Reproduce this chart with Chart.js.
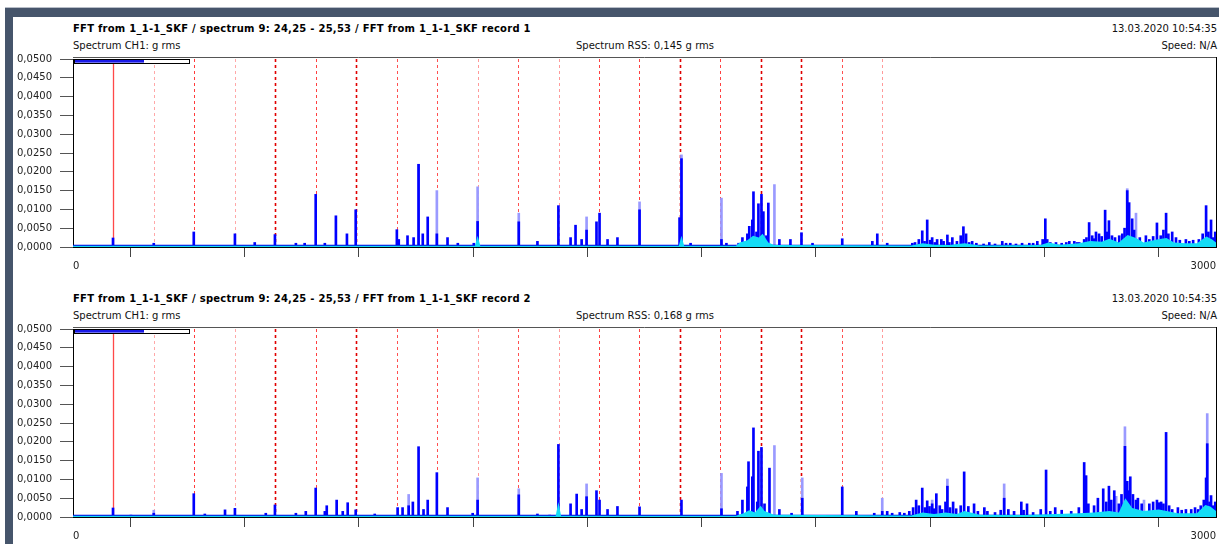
<!DOCTYPE html>
<html>
<head>
<meta charset="utf-8">
<script src="https://cdn.jsdelivr.net/npm/chart.js@4.4.1/dist/chart.umd.min.js"></script>
<style>
  body { margin: 0; background: #fff; width: 1219px; height: 544px; overflow: hidden; position: relative;
         font-family: "DejaVu Sans", Verdana, sans-serif; font-size: 10px; color: #111; }
  .frame-top { position: absolute; left: 5px; top: 7px; width: 1214px; height: 9px; background: #46556b; border-top: 1px solid #b8bec8; }
  .frame-left { position: absolute; left: 5px; top: 8px; width: 8px; height: 536px; background: #46556b; }
  .panel { position: absolute; left: 13px; width: 1206px; height: 270px; }
  .t { position: absolute; white-space: nowrap; line-height: 12px; }
  .title { left: 60px; top: 7px; font-weight: bold; letter-spacing: 0.25px; color: #000; }
  .sub { left: 60px; top: 24px; }
  .rss { left: 632px; top: 24px; transform: translateX(-50%); }
  .date { right: 2px; top: 7px; }
  .speed { right: 2px; top: 24px; }
  canvas { position: absolute; left: 0; top: 29px; }
</style>
</head>
<body>
<div class="frame-top"></div>
<div class="frame-left"></div>

<div class="panel" style="top:16px">
  <div class="t title">FFT from 1_1-1_SKF / spectrum 9: 24,25 - 25,53 / FFT from 1_1-1_SKF record 1</div>
  <div class="t sub">Spectrum CH1: g rms</div>
  <div class="t rss">Spectrum RSS: 0,145 g rms</div>
  <div class="t date">13.03.2020 10:54:35</div>
  <div class="t speed">Speed: N/A</div>
  <canvas id="rec1" width="1206" height="230"></canvas>
</div>

<div class="panel" style="top:286px">
  <div class="t title">FFT from 1_1-1_SKF / spectrum 9: 24,25 - 25,53 / FFT from 1_1-1_SKF record 2</div>
  <div class="t sub">Spectrum CH1: g rms</div>
  <div class="t rss">Spectrum RSS: 0,168 g rms</div>
  <div class="t date">13.03.2020 10:54:35</div>
  <div class="t speed">Speed: N/A</div>
  <canvas id="rec2" width="1206" height="230"></canvas>
</div>

<script>
// frequency axis (Hz) and amplitude axis (g rms)
const xMin = 0, xMax = 3000, xStep = 300;
const xLabels = [0, 3000];
const yMin = 0, yMax = 0.05, yStep = 0.005;

// order markers: fundamental and number of harmonics
const fundamentalHz = 106.2;
const markerCount = 20;
const markerColors = ['#ff4848', '#ffa8a8', '#ff3a3a', '#ffa8a8', '#e00000', '#ff4040', '#e00000', '#ff5050', '#ff5050', '#ff9a9a',
                      '#ff5050', '#ff9a9a', '#ff4040', '#ff4040', '#e00000', '#ff4040', '#e00000', '#e00000', '#ff5050', '#ff9a9a'];

// noise floor level
const rec1Floor = 0.0003;
const rec2Floor = 0.0003;

// record 1 : [Hz, g rms]
const rec1Peaks = [
  [105,0.0024],[212,0.0010],[317,0.0040],[425,0.0035],[477,0.0012],[530,0.0033],[585,0.0010],[608,0.0010],
  [637,0.0140],[661,0.0010],[690,0.0083],[719,0.0035],[742,0.0099],[850,0.0046],[855,0.0020],[878,0.0030],
  [894,0.0025],[907,0.0220],[918,0.0035],[931,0.0080],[955,0.0035],[983,0.0025],[1010,0.0010],[1052,0.0010],
  [1062,0.0068],[1170,0.0067],[1219,0.0015],[1274,0.0110],[1306,0.0025],[1319,0.0058],[1335,0.0020],[1348,0.0045],
  [1374,0.0067],[1382,0.0090],[1403,0.0020],[1429,0.0025],[1487,0.0099],[1592,0.0078],[1597,0.0235],[1621,0.0010],
  [1702,0.0020],[1715,0.0010],[1747,0.0010],[1757,0.0025],[1770,0.0035],[1775,0.0055],[1783,0.0072],[1786,0.0147],
  [1794,0.0040],[1799,0.0115],[1807,0.0140],[1812,0.0094],[1820,0.0030],[1825,0.0117],[1854,0.0020],[1883,0.0020],
  [1912,0.0038],[1941,0.0010],[2019,0.0022],[2098,0.0015],[2111,0.0035],[2137,0.0010],[2203,0.0010],[2210,0.0012],
  [2220,0.0020],[2229,0.0043],[2235,0.0015],[2242,0.0072],[2250,0.0018],[2255,0.0025],[2262,0.0012],[2268,0.0020],
  [2279,0.0020],[2285,0.0015],[2295,0.0032],[2300,0.0012],[2308,0.0025],[2320,0.0015],[2330,0.0030],[2337,0.0054],
  [2344,0.0035],[2352,0.0012],[2360,0.0015],[2371,0.0010],[2390,0.0008],[2405,0.0012],[2420,0.0008],[2439,0.0015],
  [2449,0.0010],[2460,0.0010],[2475,0.0008],[2491,0.0010],[2510,0.0010],[2520,0.0010],[2531,0.0015],[2545,0.0020],
  [2552,0.0075],[2557,0.0020],[2565,0.0012],[2580,0.0012],[2595,0.0010],[2607,0.0012],[2615,0.0015],[2628,0.0015],
  [2635,0.0012],[2641,0.0012],[2654,0.0020],[2660,0.0025],[2667,0.0065],[2675,0.0030],[2680,0.0022],[2685,0.0040],
  [2693,0.0035],[2700,0.0028],[2709,0.0098],[2714,0.0040],[2719,0.0070],[2727,0.0030],[2735,0.0025],[2746,0.0030],
  [2754,0.0035],[2760,0.0050],[2767,0.0150],[2772,0.0118],[2780,0.0075],[2785,0.0045],[2800,0.0025],[2816,0.0030],
  [2825,0.0020],[2835,0.0028],[2845,0.0064],[2855,0.0030],[2862,0.0045],[2869,0.0090],[2875,0.0035],[2885,0.0040],
  [2895,0.0025],[2905,0.0018],[2921,0.0020],[2930,0.0015],[2940,0.0018],[2955,0.0020],[2965,0.0035],[2974,0.0110],
  [2980,0.0040],[2987,0.0072],[2993,0.0025],[2998,0.0040]
];
const rec1Max = [
  [907,0.0220],[955,0.0150],[1062,0.0160],[1170,0.0090],[1348,0.0080],[1487,0.0120],[1597,0.0245],[1702,0.0130],
  [1841,0.0166],[2767,0.0155],[2790,0.0090]
];
const rec1Avg = [
  [0,0.0003],[1055,0.0003],[1062,0.0030],[1069,0.0003],[1590,0.0003],[1597,0.0030],[1604,0.0003],[1740,0.0003],
  [1750,0.0012],[1770,0.0018],[1785,0.0030],[1800,0.0025],[1810,0.0035],[1825,0.0012],[1840,0.0005],[2200,0.0004],
  [2230,0.0010],[2260,0.0006],[2300,0.0005],[2340,0.0010],[2380,0.0004],[2540,0.0005],[2560,0.0012],[2590,0.0006],
  [2640,0.0010],[2670,0.0016],[2700,0.0014],[2720,0.0022],[2745,0.0012],[2768,0.0032],[2790,0.0024],[2810,0.0012],
  [2845,0.0020],[2870,0.0024],[2890,0.0012],[2920,0.0010],[2950,0.0010],[2975,0.0028],[2990,0.0020],[3000,0.0012]
];

// record 2 : [Hz, g rms]
const rec2Peaks = [
  [105,0.0024],[152,0.0005],[212,0.0010],[317,0.0062],[346,0.0008],[399,0.0019],[425,0.0023],[506,0.0010],
  [530,0.0032],[585,0.0010],[611,0.0015],[637,0.0077],[661,0.0015],[666,0.0030],[692,0.0045],[708,0.0015],
  [721,0.0038],[742,0.0019],[792,0.0008],[852,0.0025],[865,0.0025],[881,0.0030],[892,0.0040],[907,0.0187],
  [920,0.0020],[931,0.0045],[955,0.0118],[983,0.0025],[1049,0.0010],[1062,0.0045],[1170,0.0059],[1219,0.0008],
  [1251,0.0005],[1274,0.0193],[1306,0.0035],[1322,0.0061],[1335,0.0020],[1348,0.0054],[1374,0.0070],[1382,0.0045],
  [1403,0.0020],[1429,0.0028],[1487,0.0027],[1597,0.0045],[1702,0.0022],[1744,0.0015],[1757,0.0045],[1770,0.0080],
  [1773,0.0147],[1783,0.0107],[1786,0.0237],[1796,0.0040],[1799,0.0175],[1807,0.0185],[1815,0.0035],[1828,0.0130],
  [1854,0.0020],[1886,0.0010],[1914,0.0050],[2019,0.0080],[2056,0.0015],[2103,0.0010],[2124,0.0015],[2137,0.0015],
  [2150,0.0010],[2170,0.0012],[2182,0.0010],[2195,0.0015],[2205,0.0025],[2213,0.0045],[2220,0.0030],[2229,0.0077],
  [2236,0.0025],[2242,0.0043],[2248,0.0028],[2255,0.0035],[2260,0.0022],[2266,0.0062],[2275,0.0030],[2281,0.0020],
  [2290,0.0040],[2295,0.0082],[2302,0.0025],[2310,0.0040],[2318,0.0022],[2330,0.0030],[2339,0.0120],[2350,0.0028],
  [2365,0.0035],[2375,0.0015],[2392,0.0025],[2400,0.0015],[2420,0.0012],[2435,0.0018],[2444,0.0050],[2455,0.0020],
  [2470,0.0015],[2489,0.0040],[2495,0.0018],[2504,0.0035],[2520,0.0012],[2540,0.0020],[2554,0.0125],[2565,0.0015],
  [2578,0.0025],[2595,0.0018],[2620,0.0015],[2640,0.0025],[2654,0.0145],[2659,0.0110],[2665,0.0035],[2680,0.0030],
  [2690,0.0050],[2704,0.0075],[2712,0.0040],[2719,0.0082],[2725,0.0045],[2733,0.0070],[2745,0.0035],[2752,0.0060],
  [2761,0.0188],[2767,0.0095],[2770,0.0070],[2775,0.0107],[2782,0.0060],[2790,0.0045],[2795,0.0050],[2805,0.0035],
  [2825,0.0035],[2835,0.0040],[2845,0.0045],[2850,0.0038],[2856,0.0040],[2862,0.0035],[2869,0.0225],[2877,0.0030],
  [2885,0.0020],[2900,0.0025],[2910,0.0018],[2921,0.0020],[2935,0.0020],[2945,0.0025],[2953,0.0020],[2960,0.0030],
  [2968,0.0045],[2974,0.0104],[2977,0.0195],[2983,0.0040],[2987,0.0057],[2993,0.0030],[2998,0.0040]
];
const rec2Max = [
  [212,0.0018],[881,0.0060],[1062,0.0104],[1170,0.0075],[1348,0.0088],[1702,0.0116],[1841,0.0190],[1914,0.0104],
  [2124,0.0050],[2255,0.0045],[2295,0.0101],[2444,0.0088],[2738,0.0055],[2761,0.0240],[2811,0.0045],[2977,0.0275]
];
const rec2Avg = [
  [0,0.0003],[1267,0.0003],[1274,0.0040],[1281,0.0003],[1740,0.0003],[1760,0.0010],[1775,0.0018],[1790,0.0012],
  [1805,0.0030],[1815,0.0016],[1840,0.0006],[2200,0.0004],[2230,0.0012],[2260,0.0008],[2290,0.0012],[2320,0.0008],
  [2340,0.0016],[2380,0.0006],[2500,0.0005],[2640,0.0010],[2680,0.0012],[2720,0.0016],[2745,0.0012],[2762,0.0050],
  [2780,0.0024],[2810,0.0016],[2850,0.0020],[2870,0.0016],[2900,0.0010],[2950,0.0010],[2972,0.0032],[2985,0.0028],
  [3000,0.0016]
];

const toXY = (arr) => arr.map(p => ({ x: p[0], y: p[1] }));

const markersPlugin = {
  id: 'orderMarkers',
  beforeDatasetsDraw(chart) {
    const { ctx, chartArea: a, scales: { x } } = chart;
    ctx.save();
    for (let k = 1; k <= markerCount; k++) {
      const px = Math.round(x.getPixelForValue(fundamentalHz * k)) + 0.5;
      const col = markerColors[k - 1];
      ctx.strokeStyle = col;
      ctx.lineWidth = col === '#e00000' ? 1.6 : (k === 1 ? 1.3 : 1);
      ctx.setLineDash(k === 1 ? [] : [3, 3]);
      ctx.beginPath();
      ctx.moveTo(px, a.top);
      ctx.lineTo(px, a.bottom);
      ctx.stroke();
    }
    ctx.restore();
  }
};

const frameBits = {
  id: 'frameBits',
  afterDraw(chart) {
    const { ctx, chartArea: a } = chart;
    ctx.save();
    // top and right border of plot
    ctx.strokeStyle = '#555';
    ctx.lineWidth = 1;
    ctx.beginPath();
    ctx.moveTo(a.left, a.top - 1.5);
    ctx.lineTo(a.right, a.top - 1.5);
    ctx.stroke();
    ctx.strokeStyle = '#000';
    ctx.beginPath();
    ctx.moveTo(a.right + 0.5, a.top - 2);
    ctx.lineTo(a.right + 0.5, a.bottom);
    ctx.stroke();
    // small range indicator top-left
    ctx.fillStyle = '#fff';
    ctx.fillRect(a.left + 1, a.top, 115, 5);
    ctx.strokeStyle = '#000';
    ctx.strokeRect(a.left + 1.5, a.top + 0.5, 115, 4);
    ctx.fillStyle = '#1a1ae6';
    ctx.fillRect(a.left + 2, a.top + 1, 69, 2);
    ctx.fillStyle = '#7070f0';
    ctx.fillRect(a.left + 2, a.top + 3, 69, 1);
    ctx.restore();
  }
};

function makeChart(id, peaks, maxPeaks, avg, floor) {
  return new Chart(document.getElementById(id), {
    data: {
      datasets: [
        { type: 'line', label: 'avg', data: toXY(avg), borderWidth: 0, pointRadius: 0, fill: 'origin',
          backgroundColor: '#14dcf6', order: 0 },
        { type: 'line', label: 'floor', data: [{ x: xMin, y: floor }, { x: xMax, y: floor }], borderColor: '#0000e0',
          borderWidth: 2, pointRadius: 0, order: 1 },
        { type: 'bar', label: 'spectrum', data: toXY(peaks), backgroundColor: '#0000ff', barThickness: 2,
          grouped: false, order: 2 },
        { type: 'bar', label: 'max', data: toXY(maxPeaks), backgroundColor: '#9a9aff', barThickness: 2,
          grouped: false, order: 3 }
      ]
    },
    options: {
      responsive: false,
      animation: false,
      devicePixelRatio: 1,
      layout: { padding: { left: 0, right: 2, top: 0, bottom: 0 } },
      plugins: { legend: { display: false }, tooltip: { enabled: false } },
      scales: {
        x: {
          type: 'linear', min: xMin, max: xMax, offset: false,
          afterFit: (s) => { s.height = 28; },
          border: { color: '#000', width: 1 },
          grid: { drawOnChartArea: false, drawTicks: true, tickLength: 10, color: '#444' },
          ticks: {
            stepSize: xStep, autoSkip: false, maxRotation: 0, align: 'inner', padding: 3,
            color: '#222', font: { family: 'DejaVu Sans', size: 10 },
            callback: (v) => (xLabels.includes(v) ? String(v) : '')
          }
        },
        y: {
          min: yMin, max: yMax,
          afterFit: (s) => { s.width = 60; },
          border: { color: '#000', width: 1 },
          grid: { drawOnChartArea: false, drawTicks: true, tickLength: 13, color: '#555' },
          ticks: {
            stepSize: yStep, padding: 8, color: '#222', font: { family: 'DejaVu Sans', size: 10 },
            callback: (v) => Number(v).toFixed(4).replace('.', ',')
          }
        }
      }
    },
    plugins: [markersPlugin, frameBits]
  });
}

makeChart('rec1', rec1Peaks, rec1Max, rec1Avg, rec1Floor);
makeChart('rec2', rec2Peaks, rec2Max, rec2Avg, rec2Floor);
</script>
</body>
</html>
